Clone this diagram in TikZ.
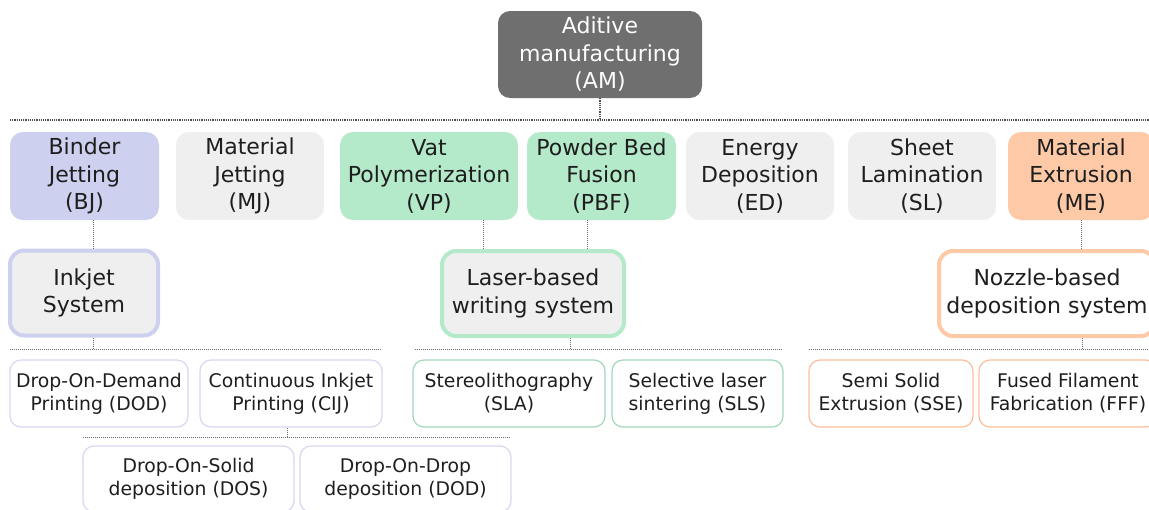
\documentclass[tikz,border=0pt]{standalone}
\usepackage{fontspec}
\setmainfont{DejaVu Sans}
\usepackage{xcolor}
\usepackage{tikz}
\usetikzlibrary{calc}
\definecolor{txt}{RGB}{30,30,30}
\definecolor{amgr}{RGB}{111,111,111}
\definecolor{lgr}{RGB}{239,239,239}
\definecolor{lav}{RGB}{205,208,238}
\definecolor{lavl}{RGB}{214,215,243}
\definecolor{grn}{RGB}{180,233,202}
\definecolor{grnl}{RGB}{160,216,186}
\definecolor{ora}{RGB}{253,201,166}
\definecolor{oral}{RGB}{250,190,152}
\definecolor{dots}{RGB}{110,110,110}

\begin{document}
\begin{tikzpicture}[x=1pt, y=-1pt, text=txt,
                top/.style={rounded corners=13pt, minimum height=88pt, inner sep=0pt, align=center,
                            font=\fontsize{22}{27.5}\selectfont},
                sys/.style={rounded corners=14pt, line width=4pt, minimum height=85pt, inner sep=0pt,
                            align=center, font=\fontsize{22}{27.5}\selectfont},
                leaf/.style={draw, rounded corners=11pt, line width=1.2pt, minimum height=67pt, inner sep=0pt,
                             align=center, font=\fontsize{18.8}{23}\selectfont},
                lnk/.style={draw=dots, line width=1pt, dash pattern=on 1pt off 1pt},
                bar/.style={draw=dots!70!black, line width=1.2pt, dash pattern=on 1.2pt off 1pt}]

            \useasboundingbox (0,0) rectangle (1149,509);

            % wortel
            \node[top, fill=amgr, text=white, minimum width=204pt, minimum height=87pt, rounded corners=12pt]
                (am) at (600, 54.5) {Aditive\\manufacturing\\(AM)};
            \coordinate (barL) at (10, 120);
            \coordinate (barR) at (1149, 120);
            \draw[bar] (barL) -- (barR);
            \draw[bar] (am.south) -- (am.south |- barL);

            % categorieen
            \node[top, fill=lav, minimum width=149pt] (bj) at (84.5, 176) {Binder\\Jetting\\(BJ)};
            \node[top, fill=lgr, minimum width=148pt] (mj) at (250, 176) {Material\\Jetting\\(MJ)};
            \node[top, fill=grn, minimum width=178pt] (vp) at (429, 176) {Vat\\Polymerization\\(VP)};
            \node[top, fill=grn, minimum width=149pt] (pbf) at (601.5, 176) {Powder Bed\\Fusion\\(PBF)};
            \node[top, fill=lgr, minimum width=148pt] (ed) at (760, 176) {Energy\\Deposition\\(ED)};
            \node[top, fill=lgr, minimum width=148pt] (sl) at (922, 176) {Sheet\\Lamination\\(SL)};
            \node[top, fill=ora, minimum width=146pt] (me) at (1081, 176) {Material\\Extrusion\\(ME)};

            % systemen
            \node[sys, draw=lav, fill=lgr, minimum width=148pt] (ink) at (84, 293) {Inkjet\\System};
            \node[sys, draw=grn, fill=lgr, minimum width=182pt] (las) at (533, 293.5) {Laser-based\\writing system};
            \node[sys, draw=ora, fill=white, minimum width=216pt] (noz) at (1047, 293.5) {Nozzle-based\\deposition system};
            \draw[lnk] ([xshift=8.5pt]bj.south) -- ([xshift=8.5pt]bj.south |- ink.north);
            \draw[lnk] ([xshift=54pt]vp.south) -- ([xshift=54pt]vp.south |- las.north);
            \draw[lnk] ([xshift=-14.5pt]pbf.south) -- ([xshift=-14.5pt]pbf.south |- las.north);
            \draw[lnk] (me.south) -- (me.south |- noz.north);

            % tussenlijnen
            \coordinate (ibL) at (10, 349);   \coordinate (ibR) at (382, 349);
            \coordinate (lbL) at (415, 349);  \coordinate (lbR) at (782, 349);
            \coordinate (nbL) at (809, 349);  \coordinate (nbR) at (1149, 349);
            \draw[lnk] (ibL) -- (ibR);
            \draw[lnk] (lbL) -- (lbR);
            \draw[lnk] (nbL) -- (nbR);
            \draw[lnk] ([xshift=9pt]ink.south) -- ([xshift=9pt]ink.south |- ibL);
            \draw[lnk] ([xshift=37pt]las.south) -- ([xshift=37pt]las.south |- lbL);
            \draw[lnk] ([xshift=35pt]noz.south) -- ([xshift=35pt]noz.south |- nbL);

            % technieken
            \node[leaf, draw=lavl, minimum width=178pt] (dod) at (99, 393.5) {Drop-On-Demand\\Printing (DOD)};
            \node[leaf, draw=lavl, minimum width=182pt] (cij) at (291, 393.5) {Continuous Inkjet\\Printing (CIJ)};
            \node[leaf, draw=grnl, minimum width=192pt] (sla) at (509, 393.5) {Stereolithography\\(SLA)};
            \node[leaf, draw=grnl, minimum width=171pt] (sls) at (697.5, 393.5) {Selective laser\\sintering (SLS)};
            \node[leaf, draw=oral, minimum width=164pt] (sse) at (891, 393.5) {Semi Solid\\Extrusion (SSE)};
            \node[leaf, draw=oral, minimum width=178pt] (fff) at (1068, 393.5) {Fused Filament\\Fabrication (FFF)};

            % continu inkjet
            \coordinate (cbL) at (83, 437);   \coordinate (cbR) at (511, 437);
            \draw[lnk] (cbL) -- (cbR);
            \draw[lnk] ([xshift=-4pt]cij.south) -- ([xshift=-4pt]cij.south |- cbL);
            \node[leaf, draw=lavl, minimum width=211pt, minimum height=66pt] (dos) at (188.5, 479) {Drop-On-Solid\\deposition (DOS)};
            \node[leaf, draw=lavl, minimum width=211pt, minimum height=66pt] (dodd) at (405.5, 479) {Drop-On-Drop\\deposition (DOD)};

        \end{tikzpicture}
\end{document}
